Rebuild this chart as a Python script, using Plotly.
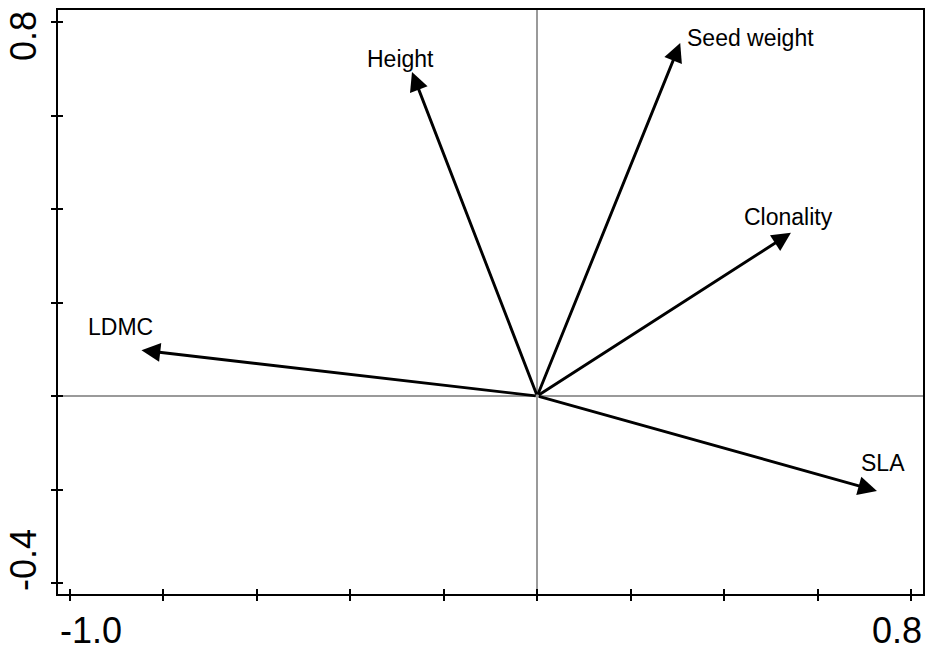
import plotly.graph_objects as go

# Trait loadings on the first two ordination axes
traits = ["Height", "Seed weight", "Clonality", "LDMC", "SLA"]
axis1 = [-0.268, 0.306, 0.543, -0.847, 0.727]
axis2 = [0.693, 0.755, 0.349, 0.098, -0.203]

# label offsets from each arrow tip (pixels)
label_dx = [-12, 70, -2, -21, 6]
label_dy = [13, 5, 16, 23, 28]

x_ticks = [-1.0, -0.8, -0.6, -0.4, -0.2, 0.0, 0.2, 0.4, 0.6, 0.8]
y_ticks = [-0.4, -0.2, 0.0, 0.2, 0.4, 0.6, 0.8]
x_labels = ["-1.0", "0.8"]
y_labels = ["0.8", "-0.4"]

FONT = "Liberation Sans, Arial, sans-serif"

fig = go.Figure()
fig.add_trace(go.Scatter(x=[0], y=[0], mode="markers", marker=dict(opacity=0),
                         hoverinfo="skip", showlegend=False))
fig.add_trace(go.Scatter(x=[0], y=[0], xaxis="x2", yaxis="y2", mode="markers",
                         marker=dict(opacity=0), hoverinfo="skip", showlegend=False))

annotations = []
for name, px_, py_, dx, dy in zip(traits, axis1, axis2, label_dx, label_dy):
    annotations.append(dict(
        x=px_, y=py_, xref="x", yref="y", ax=0, ay=0, axref="x", ayref="y",
        text="", showarrow=True, arrowhead=2, arrowsize=1.3, arrowwidth=2.9,
        arrowcolor="black", standoff=0))
    annotations.append(dict(
        x=px_, y=py_, xref="x", yref="y", text=name, showarrow=False,
        xshift=dx, yshift=dy, xanchor="center", yanchor="middle",
        font=dict(family=FONT, size=23, color="black")))

# tick labels at the axis extremes
tick_font = dict(family=FONT, size=36, color="black")
annotations += [
    dict(x=x_ticks[0], y=0, xref="x", yref="paper", text=x_labels[0], showarrow=False,
         xanchor="center", yanchor="middle", xshift=21, yshift=-36, font=tick_font),
    dict(x=x_ticks[-1], y=0, xref="x", yref="paper", text=x_labels[1], showarrow=False,
         xanchor="center", yanchor="middle", xshift=-14, yshift=-36, font=tick_font),
    dict(x=0, y=y_ticks[-1], xref="paper", yref="y", text=y_labels[0], showarrow=False,
         textangle=-90, xanchor="center", yanchor="middle", xshift=-35, yshift=-14,
         font=tick_font),
    dict(x=0, y=y_ticks[0], xref="paper", yref="y", text=y_labels[1], showarrow=False,
         textangle=-90, xanchor="center", yanchor="middle", xshift=-35, yshift=23,
         font=tick_font),
]

x_range = [-1.0256, 0.8256]
y_range = [-0.4235, 0.8257]

common = dict(showgrid=False, ticklen=5, tickwidth=1.6, tickcolor="black")

fig.update_layout(
    width=931, height=650,
    margin=dict(l=58, r=6, t=10, b=56),
    paper_bgcolor="white", plot_bgcolor="white",
    showlegend=False,
    annotations=annotations,
    xaxis=dict(range=x_range, tickvals=x_ticks, ticks="outside", showticklabels=False,
               showline=True, mirror=True, linecolor="black", linewidth=2.2,
               zeroline=True, zerolinecolor="#9a9a9a", zerolinewidth=1.6, **common),
    yaxis=dict(range=y_range, tickvals=y_ticks, ticks="outside", showticklabels=False,
               showline=True, mirror=True, linecolor="black", linewidth=2.2,
               zeroline=True, zerolinecolor="#9a9a9a", zerolinewidth=1.6, **common),
    xaxis2=dict(overlaying="x", matches="x", side="bottom", tickvals=x_ticks,
                ticks="inside", showticklabels=False, showline=False, zeroline=False,
                **common),
    yaxis2=dict(overlaying="y", matches="y", side="left", tickvals=y_ticks,
                ticks="inside", showticklabels=False, showline=False, zeroline=False,
                **common),
)

fig.write_html("out.html")
